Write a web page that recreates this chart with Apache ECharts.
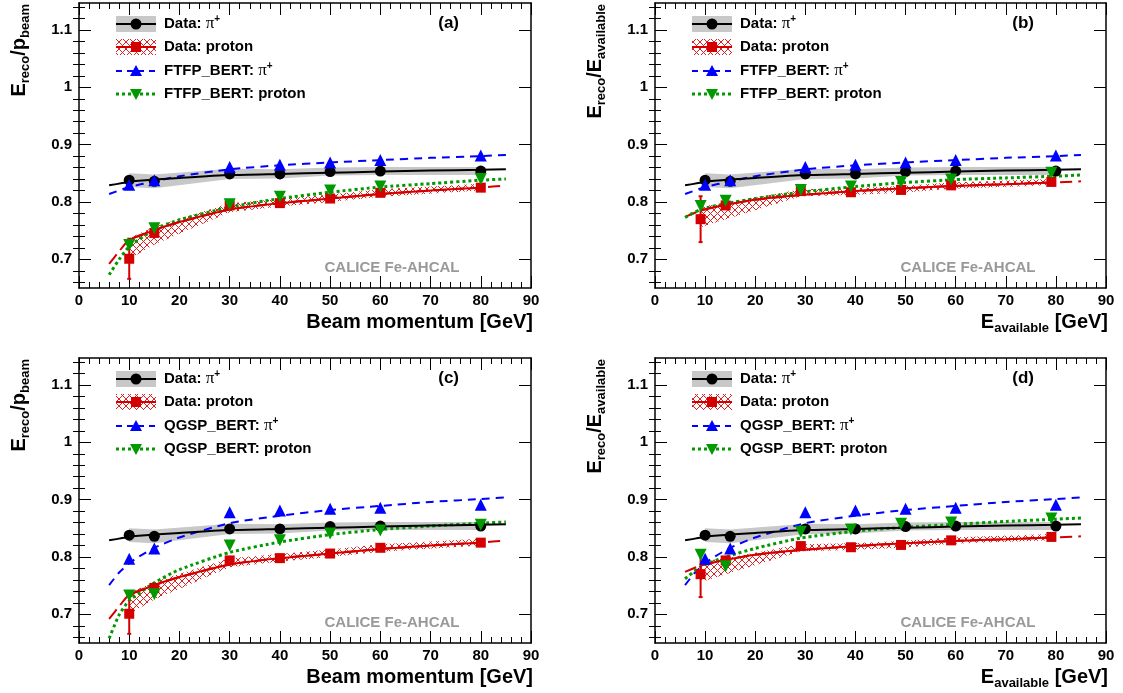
<!DOCTYPE html>
<html><head><meta charset="utf-8">
<script src="https://cdn.jsdelivr.net/npm/echarts@6/dist/echarts.min.js"></script>
<style>html,body{margin:0;padding:0;background:#fff}#c{width:1123px;height:693px}</style>
</head><body><div id="c"></div>
<script>
// ---------------- DATA ----------------
const xPi = [10, 15, 30, 40, 50, 60, 80];              // pi+ beam momentum = available energy
const xProtP = [10, 15, 30, 40, 50, 60, 80];           // proton beam momentum
const xProtAvail = [9.1, 14.1, 29.1, 39.1, 49.1, 59.1, 79.1]; // proton available energy

const yMajorTicks = [0.7, 0.8, 0.9, 1, 1.1];
const yMinorTicks = [0.66, 0.68, 0.72, 0.74, 0.76, 0.78, 0.82, 0.84, 0.86, 0.88, 0.92, 0.94, 0.96, 0.98, 1.02, 1.04, 1.06, 1.08, 1.12, 1.14];

// Data pi+
const dataPi = [0.838, 0.836, 0.849, 0.849, 0.853, 0.854, 0.854];
const dataPiLo = [0.826, 0.824, 0.840, 0.841, 0.846, 0.847, 0.847];
const dataPiHi = [0.850, 0.848, 0.858, 0.857, 0.860, 0.861, 0.861];
const fitPiX = [6, 10, 15, 20, 30, 40, 50, 60, 70, 80, 85];
const fitPiY = [0.829, 0.835, 0.839, 0.842, 0.847, 0.849, 0.851, 0.853, 0.855, 0.856, 0.857];

// Data proton vs beam momentum
const dataProtP = [0.701, 0.746, 0.794, 0.798, 0.806, 0.816, 0.825];
const dataProtPErr = [0.035, 0, 0, 0, 0, 0, 0];
const dataProtPLo = [0.700, 0.726, 0.782, 0.792, 0.800, 0.809, 0.820];
const dataProtPHi = [0.737, 0.757, 0.798, 0.805, 0.813, 0.822, 0.832];
const fitProtPX = [6, 8, 10, 15, 20, 30, 40, 50, 60, 70, 80, 85];
const fitProtPY = [0.692, 0.714, 0.734, 0.751, 0.765, 0.787, 0.798, 0.806, 0.814, 0.820, 0.825, 0.829];

// Data proton vs available energy
const dataProtA = [0.770, 0.794, 0.819, 0.817, 0.821, 0.829, 0.835];
const dataProtAErr = [0.040, 0, 0, 0, 0, 0, 0];
const dataProtALo = [0.756, 0.770, 0.810, 0.812, 0.816, 0.823, 0.829];
const dataProtAHi = [0.792, 0.798, 0.822, 0.824, 0.828, 0.834, 0.840];
const fitProtAX = [6, 9.1, 14.1, 20, 29.1, 40, 50, 60, 70, 79.1, 85];
const fitProtAY = [0.774, 0.785, 0.795, 0.804, 0.812, 0.819, 0.824, 0.828, 0.831, 0.834, 0.836];

// FTFP_BERT pi+
const ftfpPi = [0.830, 0.838, 0.861, 0.865, 0.869, 0.873, 0.881];
const fitFtfpPiX = [6, 10, 15, 20, 30, 40, 50, 60, 70, 80, 85];
const fitFtfpPiY = [0.814, 0.826, 0.836, 0.845, 0.857, 0.864, 0.869, 0.873, 0.877, 0.880, 0.882];

// FTFP_BERT proton (beam momentum / available energy)
const ftfpProtP = [0.725, 0.754, 0.796, 0.809, 0.820, 0.827, 0.840];
const fitFtfpProtPX = [6, 8, 10, 15, 20, 30, 40, 50, 60, 70, 80, 85];
const fitFtfpProtPY = [0.673, 0.700, 0.722, 0.752, 0.769, 0.791, 0.806, 0.817, 0.826, 0.832, 0.838, 0.840];
const ftfpProtA = [0.793, 0.802, 0.821, 0.827, 0.835, 0.839, 0.851];
const fitFtfpProtAX = [6, 9.1, 14.1, 20, 29.1, 40, 50, 60, 70, 80, 85];
const fitFtfpProtAY = [0.773, 0.787, 0.797, 0.806, 0.817, 0.827, 0.834, 0.839, 0.842, 0.845, 0.847];

// QGSP_BERT pi+
const qgspPi = [0.797, 0.815, 0.878, 0.881, 0.884, 0.886, 0.891];
const fitQgspPiX = [6, 8, 10, 12, 15, 20, 30, 40, 50, 60, 70, 80, 85];
const fitQgspPiY = [0.751, 0.773, 0.789, 0.801, 0.816, 0.834, 0.859, 0.872, 0.882, 0.889, 0.896, 0.901, 0.904];

// QGSP_BERT proton
const qgspProtP = [0.733, 0.735, 0.820, 0.829, 0.841, 0.846, 0.856];
const fitQgspProtPX = [6, 8, 10, 15, 20, 30, 40, 50, 60, 70, 80, 85];
const fitQgspProtPY = [0.658, 0.699, 0.724, 0.755, 0.778, 0.808, 0.826, 0.839, 0.848, 0.854, 0.859, 0.861];
const qgspProtA = [0.804, 0.784, 0.844, 0.848, 0.858, 0.860, 0.867];
const fitQgspProtAX = [6, 9.1, 14.1, 20, 29.1, 40, 50, 60, 70, 80, 85];
const fitQgspProtAY = [0.762, 0.783, 0.800, 0.815, 0.833, 0.845, 0.852, 0.857, 0.862, 0.866, 0.868];

// ---------------- STYLE ----------------
const FONT = '"Liberation Sans", Arial, Helvetica, sans-serif';
const RED = '#d40000', BLUE = '#0000ff', GREEN = '#009900', GRAY = '#c8c8c8';
const Y_MIN = 0.65, Y_MAX = 1.147;
const GRIDS = [
  {left: 79, top: 3, width: 452, height: 285},
  {left: 655, top: 3, width: 451, height: 285},
  {left: 79, top: 358, width: 452, height: 285},
  {left: 655, top: 358, width: 451, height: 285}
];

// hatch pattern
const pc = document.createElement('canvas'); pc.width = 7; pc.height = 7;
const pctx = pc.getContext('2d');
pctx.strokeStyle = '#e02020'; pctx.lineWidth = 1;
pctx.beginPath(); pctx.moveTo(0, 0); pctx.lineTo(7, 7); pctx.moveTo(7, 0); pctx.lineTo(0, 7); pctx.stroke();
const HATCH = {image: pc, repeat: 'repeat'};

const panels = [
  {xPr: xProtP, prot: dataProtP, protErr: dataProtPErr, protLo: dataProtPLo, protHi: dataProtPHi,
   fitPrX: fitProtPX, fitPrY: fitProtPY, mcPi: ftfpPi, fitMcPiX: fitFtfpPiX, fitMcPiY: fitFtfpPiY,
   mcPr: ftfpProtP, fitMcPrX: fitFtfpProtPX, fitMcPrY: fitFtfpProtPY, tag: '(a)', model: 'FTFP_BERT', avail: false},
  {xPr: xProtAvail, prot: dataProtA, protErr: dataProtAErr, protLo: dataProtALo, protHi: dataProtAHi,
   fitPrX: fitProtAX, fitPrY: fitProtAY, mcPi: ftfpPi, fitMcPiX: fitFtfpPiX, fitMcPiY: fitFtfpPiY,
   mcPr: ftfpProtA, fitMcPrX: fitFtfpProtAX, fitMcPrY: fitFtfpProtAY, tag: '(b)', model: 'FTFP_BERT', avail: true},
  {xPr: xProtP, prot: dataProtP, protErr: dataProtPErr, protLo: dataProtPLo, protHi: dataProtPHi,
   fitPrX: fitProtPX, fitPrY: fitProtPY, mcPi: qgspPi, fitMcPiX: fitQgspPiX, fitMcPiY: fitQgspPiY,
   mcPr: qgspProtP, fitMcPrX: fitQgspProtPX, fitMcPrY: fitQgspProtPY, tag: '(c)', model: 'QGSP_BERT', avail: false},
  {xPr: xProtAvail, prot: dataProtA, protErr: dataProtAErr, protLo: dataProtALo, protHi: dataProtAHi,
   fitPrX: fitProtAX, fitPrY: fitProtAY, mcPi: qgspPi, fitMcPiX: fitQgspPiX, fitMcPiY: fitQgspPiY,
   mcPr: qgspProtA, fitMcPrX: fitQgspProtAX, fitMcPrY: fitQgspProtAY, tag: '(d)', model: 'QGSP_BERT', avail: true}
];

const zip = (xs, ys) => xs.map((x, i) => [x, ys[i]]);

const xAxis = [], yAxis = [], series = [], graphic = [];
const tickStyle = {color: '#000', width: 1};

GRIDS.forEach((gr, g) => {
  const xb = {gridIndex: g, type: 'value', min: 0, max: 90, interval: 10,
    axisLine: {show: true, onZero: false, lineStyle: {color: '#000', width: 1.5}},
    axisTick: {show: true, inside: true, length: 12, lineStyle: tickStyle},
    minorTick: {show: true, splitNumber: 5, length: 6, lineStyle: tickStyle},
    splitLine: {show: false}, minorSplitLine: {show: false}};
  xAxis.push(Object.assign({}, xb, {position: 'bottom',
    axisLabel: {show: true, margin: 5, color: '#000', fontSize: 15, fontWeight: 'bold', fontFamily: FONT}}));
  xAxis.push(Object.assign({}, xb, {position: 'top', axisLabel: {show: false}}));

  const yb = {gridIndex: g, type: 'value', min: Y_MIN, max: Y_MAX, splitLine: {show: false}};
  ['left', 'right'].forEach(pos => {
    yAxis.push(Object.assign({}, yb, {position: pos,
      axisLine: {show: true, onZero: false, lineStyle: {color: '#000', width: 1.5}},
      axisTick: {show: true, inside: true, length: 12, customValues: yMajorTicks, lineStyle: tickStyle},
      axisLabel: pos === 'left' ? {show: true, customValues: yMajorTicks, margin: 7, color: '#000', fontSize: 15, fontWeight: 'bold', fontFamily: FONT} : {show: false}}));
    yAxis.push(Object.assign({}, yb, {position: pos,
      axisLine: {show: false},
      axisTick: {show: true, inside: true, length: 6, customValues: yMinorTicks, lineStyle: tickStyle},
      axisLabel: {show: false}}));
  });

  const P = panels[g];
  const xi = g * 2, yi = g * 4;
  const common = {xAxisIndex: xi, yAxisIndex: yi, silent: true, animation: false};

  const band = (xs, lo, hi, fill) => Object.assign({}, common, {
    type: 'custom', z: 1, data: xs.map((x, i) => [x, lo[i], hi[i]]), encode: {x: 0, y: [1, 2]},
    renderItem(params, api) {
      if (params.dataIndex !== 0) return null;
      const top = [], bot = [];
      xs.forEach((x, i) => { top.push(api.coord([x, hi[i]])); bot.push(api.coord([x, lo[i]])); });
      return {type: 'polygon', shape: {points: top.concat(bot.reverse())}, style: {fill: fill, stroke: null}};
    }});
  const fit = (xs, ys, color, width, type, z) => Object.assign({}, common, {
    type: 'line', z: z || 2, data: zip(xs, ys), showSymbol: false, smooth: 0.2,
    lineStyle: {color: color, width: width, type: type}});
  const pts = (xs, ys, color, symbol, size, rot) => Object.assign({}, common, {
    type: 'scatter', z: 5, data: zip(xs, ys), symbol: symbol, symbolSize: size, symbolRotate: rot || 0,
    itemStyle: {color: color, opacity: 1}});

  series.push(band(xPi, dataPiLo, dataPiHi, GRAY));
  series.push(band(P.xPr, P.protLo, P.protHi, HATCH));
  series.push(fit(fitPiX, fitPiY, '#000', 2, 'solid', 3));
  series.push(fit(P.fitPrX, P.fitPrY, RED, 2, [12, 6], 2));
  const xmin = P.xPr[0], xmax = P.xPr[P.xPr.length - 1];
  const solidIdx = P.fitPrX.map((x, i) => i).filter(i => P.fitPrX[i] >= xmin - 0.01 && P.fitPrX[i] <= xmax + 0.01);
  series.push(fit(solidIdx.map(i => P.fitPrX[i]), solidIdx.map(i => P.fitPrY[i]), RED, 2, 'solid', 3));
  series.push(fit(P.fitMcPiX, P.fitMcPiY, BLUE, 2, [8, 6], 2));
  series.push(fit(P.fitMcPrX, P.fitMcPrY, GREEN, 3, [3, 3], 2));
  // error bars
  series.push(Object.assign({}, common, {
    type: 'custom', z: 4,
    data: P.xPr.map((x, i) => [x, P.prot[i] - P.protErr[i], P.prot[i] + P.protErr[i], P.protErr[i]]).filter(d => d[3] > 0),
    encode: {x: 0, y: [1, 2]},
    renderItem(params, api) {
      const a = api.coord([api.value(0), api.value(1)]), b = api.coord([api.value(0), api.value(2)]);
      const st = {stroke: RED, lineWidth: 2};
      return {type: 'group', children: [
        {type: 'line', shape: {x1: a[0], y1: a[1], x2: b[0], y2: b[1]}, style: st},
        {type: 'line', shape: {x1: a[0] - 2, y1: a[1], x2: a[0] + 2, y2: a[1]}, style: st},
        {type: 'line', shape: {x1: b[0] - 2, y1: b[1], x2: b[0] + 2, y2: b[1]}, style: st}]};
    }}));
  series.push(pts(P.xPr, P.prot, RED, 'rect', 10));
  series.push(pts(xPi, dataPi, '#000', 'circle', 11));
  series.push(pts(xPi, P.mcPi, BLUE, 'triangle', 12));
  series.push(pts(P.xPr, P.mcPr, GREEN, 'triangle', 12, 180));

  // ---- decorations (legend, labels, titles)
  const L = gr.left, T = gr.top, R = gr.left + gr.width, B = gr.top + gr.height;
  const rows = [21, 44, 68, 91].map(v => T + v);
  const sx0 = L + 37, sx1 = L + 77, sxc = L + 57;
  graphic.push({type: 'rect', shape: {x: sx0, y: rows[0] - 8, width: 40, height: 16}, style: {fill: GRAY}});
  graphic.push({type: 'line', shape: {x1: sx0, y1: rows[0], x2: sx1, y2: rows[0]}, style: {stroke: '#000', lineWidth: 2}});
  graphic.push({type: 'circle', shape: {cx: sxc, cy: rows[0], r: 5.5}, style: {fill: '#000'}});
  graphic.push({type: 'rect', shape: {x: sx0, y: rows[1] - 8, width: 40, height: 16}, style: {fill: HATCH}});
  graphic.push({type: 'line', shape: {x1: sx0, y1: rows[1], x2: sx1, y2: rows[1]}, style: {stroke: RED, lineWidth: 2}});
  graphic.push({type: 'rect', shape: {x: sxc - 5, y: rows[1] - 5, width: 10, height: 10}, style: {fill: RED}});
  graphic.push({type: 'line', shape: {x1: sx0, y1: rows[2], x2: sx1, y2: rows[2]}, style: {stroke: BLUE, lineWidth: 2, lineDash: [6, 5]}});
  graphic.push({type: 'polygon', shape: {points: [[sxc, rows[2] - 6], [sxc + 6, rows[2] + 5], [sxc - 6, rows[2] + 5]]}, style: {fill: BLUE}});
  graphic.push({type: 'line', shape: {x1: sx0, y1: rows[3], x2: sx1, y2: rows[3]}, style: {stroke: GREEN, lineWidth: 3, lineDash: [3, 3]}});
  graphic.push({type: 'polygon', shape: {points: [[sxc, rows[3] + 6], [sxc + 6, rows[3] - 5], [sxc - 6, rows[3] - 5]]}, style: {fill: GREEN}});
  const richL = {
    b: {fontFamily: FONT, fontWeight: 'bold', fontSize: 15, fill: '#000', lineHeight: 20},
    p: {fontFamily: '"Liberation Serif", "Times New Roman", serif', fontSize: 17, fill: '#000', lineHeight: 20},
    s: {fontFamily: FONT, fontWeight: 'bold', fontSize: 10, fill: '#000', lineHeight: 12, verticalAlign: 'top'}
  };
  const legTexts = ['{b|Data: }{p|π}{s|+}', '{b|Data: proton}', '{b|' + P.model + ': }{p|π}{s|+}', '{b|' + P.model + ': proton}'];
  legTexts.forEach((t, i) => graphic.push({type: 'text', x: L + 85, y: rows[i],
    style: {text: t, rich: richL, align: 'left', verticalAlign: 'middle'}}));

  graphic.push({type: 'text', x: R - 72, y: T + 20, style: {text: P.tag, fontFamily: FONT, fontWeight: 'bold', fontSize: 17, fill: '#000', align: 'right', verticalAlign: 'middle'}});
  graphic.push({type: 'text', x: L + 313, y: T + 265, style: {text: 'CALICE Fe-AHCAL', fontFamily: FONT, fontWeight: 'bold', fontSize: 15, fill: '#999999', align: 'center', verticalAlign: 'middle'}});

  const richT = {
    E: {fontFamily: FONT, fontWeight: 'bold', fontSize: 20, fill: '#000', lineHeight: 26, verticalAlign: 'middle'},
    s: {fontFamily: FONT, fontWeight: 'bold', fontSize: 13, fill: '#000', lineHeight: 13, verticalAlign: 'bottom'}
  };
  const yT = P.avail ? '{E|E}{s|reco}{E|/E}{s|available}' : '{E|E}{s|reco}{E|/p}{s|beam}';
  graphic.push({type: 'text', x: L - 60, y: T + 1, rotation: Math.PI / 2,
    style: {text: yT, rich: richT, align: 'right', verticalAlign: 'middle'}});
  const xT = P.avail ? '{E|E}{s|available}{E| [GeV]}' : '{E|Beam momentum [GeV]}';
  graphic.push({type: 'text', x: R + 2, y: B + 34,
    style: {text: xT, rich: richT, align: 'right', verticalAlign: 'middle'}});
});

const chart = echarts.init(document.getElementById('c'), null, {renderer: 'canvas'});
chart.setOption({
  animation: false,
  backgroundColor: '#fff',
  grid: GRIDS.map(g => Object.assign({containLabel: false}, g)),
  xAxis: xAxis, yAxis: yAxis, series: series, graphic: graphic
});
</script></body></html>
